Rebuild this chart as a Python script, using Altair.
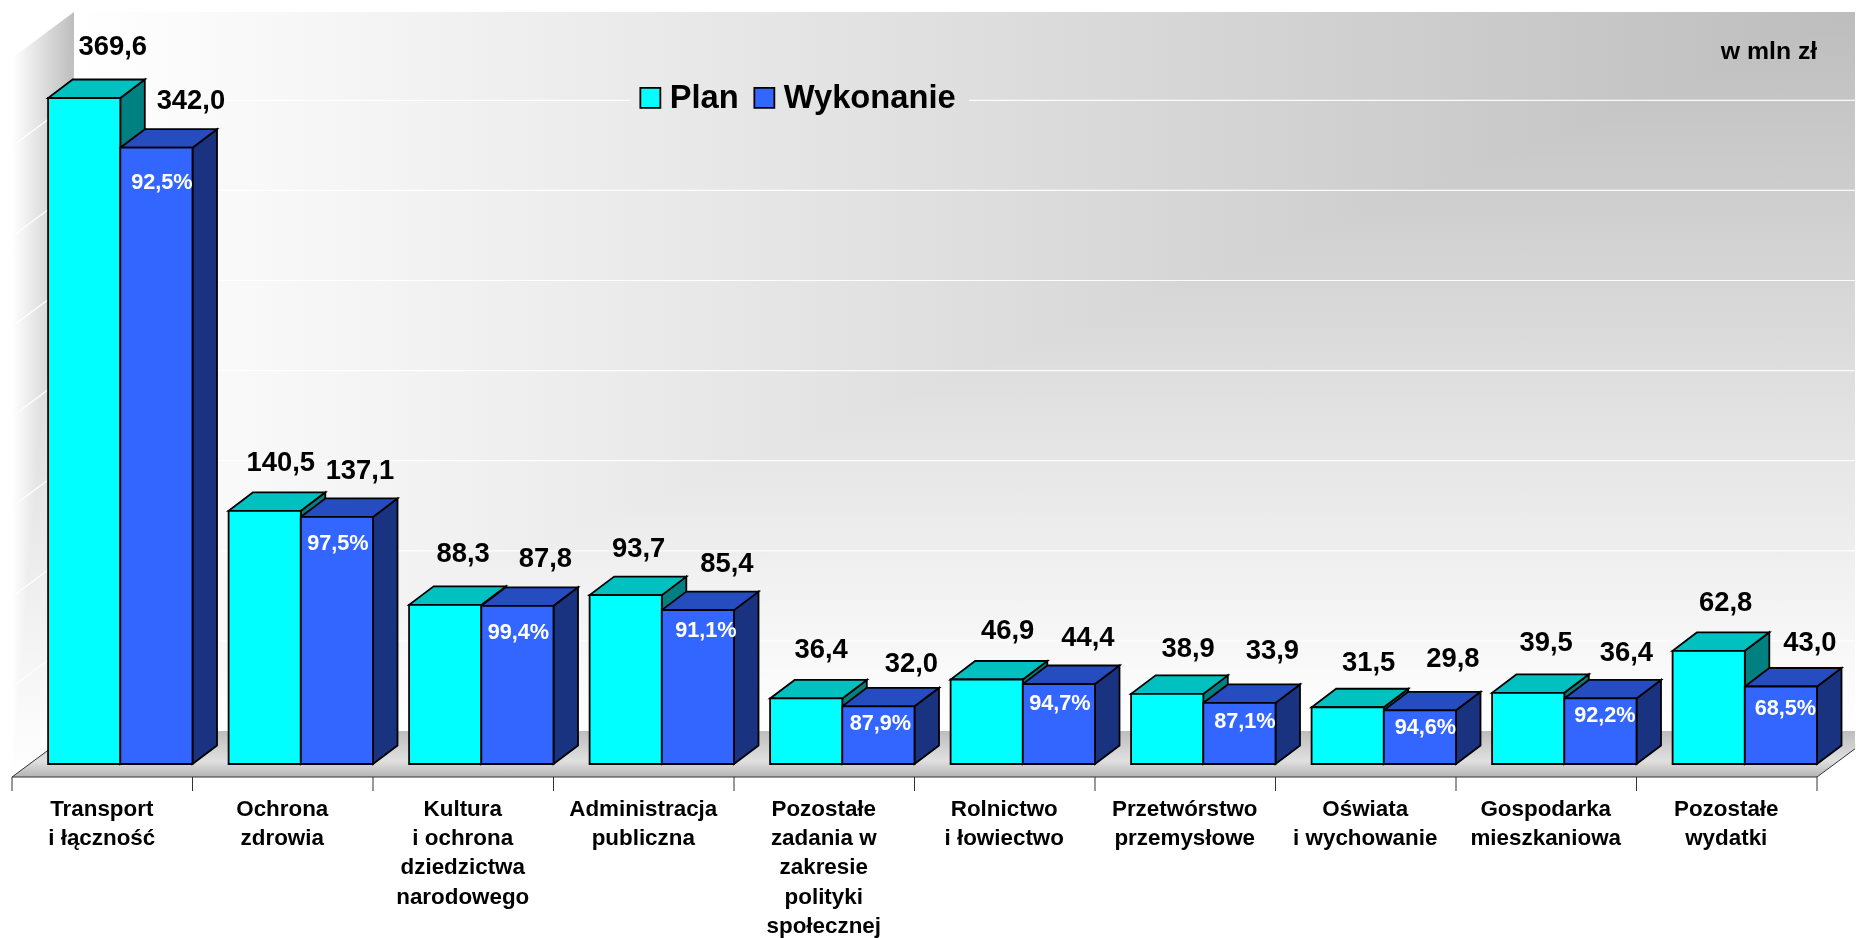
import altair as alt
import pandas as pd

categories = [
    ["Transport", "i łączność"],
    ["Ochrona", "zdrowia"],
    ["Kultura", "i ochrona", "dziedzictwa", "narodowego"],
    ["Administracja", "publiczna"],
    ["Pozostałe", "zadania w", "zakresie", "polityki", "społecznej"],
    ["Rolnictwo", "i łowiectwo"],
    ["Przetwórstwo", "przemysłowe"],
    ["Oświata", "i wychowanie"],
    ["Gospodarka", "mieszkaniowa"],
    ["Pozostałe", "wydatki"],
]
plan = [369.6, 140.5, 88.3, 93.7, 36.4, 46.9, 38.9, 31.5, 39.5, 62.8]
wykonanie = [342.0, 137.1, 87.8, 85.4, 32.0, 44.4, 33.9, 29.8, 36.4, 43.0]
percent = ["92,5%", "97,5%", "99,4%", "91,1%", "87,9%", "94,7%", "87,1%", "94,6%", "92,2%", "68,5%"]
grid_values = [50, 100, 150, 200, 250, 300, 350]
series = ["Plan", "Wykonanie"]
fmt = lambda v: f"{v:.1f}".replace(".", ",")

# geometry of the pseudo-3D projection
CAT = 180.5       # px per category
PXV = 1.802       # px per unit of value
W, H = 1847, 930
dX = 24.5 / CAT   # bar depth
dV = 18.5 / PXV
wallX = 62 / CAT  # floor depth
wallV = 33 / PXV
frontV = -13 / PXV
topV = 417.3
wallR = 1851 / CAT
px = lambda p: p / CAT
pv = lambda p: p / PXV

xs = alt.Scale(domain=[-4 / CAT, 1843 / CAT], nice=False, zero=False)
ys = alt.Scale(domain=[(764 - 938) / PXV, (764 - 8) / PXV], nice=False, zero=False)
X = alt.X("x:Q", scale=xs, axis=None)
Y = alt.Y("y:Q", scale=ys, axis=None)
X2 = alt.X2("x2:Q")
Y2 = alt.Y2("y2:Q")


def grad(stops, x1=0, y1=0, x2=1, y2=0):
    return alt.LinearGradient(
        gradient="linear", x1=x1, y1=y1, x2=x2, y2=y2,
        stops=[alt.GradientStop(offset=o, color=c) for o, c in stops],
    )


# walls and floor: the "from corner" shading is the lighter of two linear ramps
RAMP = [(0, "#ffffff"), (1, "#bdbdbd")]
back_df = pd.DataFrame([dict(x=wallX, x2=wallR, y=wallV, y2=topV)])
back_h = alt.Chart(back_df).mark_rect(color=grad(RAMP)).encode(x=X, x2=X2, y=Y, y2=Y2)
back_v = alt.Chart(back_df).mark_rect(color=grad(RAMP, 0, 1, 0, 0), blend="lighten").encode(x=X, x2=X2, y=Y, y2=Y2)

left_df = pd.DataFrame([
    dict(x=0, y=frontV, y2=topV - (wallV - frontV)),
    dict(x=wallX, y=wallV, y2=topV),
])
left_h = alt.Chart(left_df).mark_area(color=grad(RAMP)).encode(x=X, y=Y, y2=Y2)
left_v = alt.Chart(left_df).mark_area(color=grad(RAMP, 0, 1, 0, 0), blend="lighten").encode(x=X, y=Y, y2=Y2)

floor_df = pd.DataFrame([
    dict(y=frontV, x=0, x2=10),
    dict(y=wallV, x=wallX, x2=10 + wallX),
])
floor = alt.Chart(floor_df).mark_area(
    orient="horizontal", clip=True,
    color=grad([(0, "#bdbdbd"), (0.65, "#e0e0e0"), (1, "#b4b4b4")], 0, 0, 0, 1),
).encode(y=Y, x=X, x2=X2)

front_line = alt.Chart(pd.DataFrame([dict(x=0, x2=10, y=frontV)])).mark_rule(
    color="#333333", strokeWidth=1
).encode(x=X, x2=X2, y=Y)
left_edge = alt.Chart(pd.DataFrame([dict(x=0, y=frontV), dict(x=0.2, y=frontV + (wallV - frontV) * 0.2 / wallX)])).mark_line(
    color="#333333", strokeWidth=1
).encode(x=X, y=Y)
right_edge = alt.Chart(pd.DataFrame([dict(x=10, y=frontV), dict(x=10 + wallX, y=wallV)])).mark_line(
    color="#333333", strokeWidth=1, clip=True
).encode(x=X, y=Y)

# grid lines: the legend interrupts the one behind it
grid_rows = []
for g in grid_values:
    v = g + wallV
    if g == 350:
        grid_rows.append(dict(x=wallX, x2=618 / CAT, y=v))
        grid_rows.append(dict(x=957 / CAT, x2=wallR, y=v))
    else:
        grid_rows.append(dict(x=wallX, x2=wallR, y=v))
grid_back = alt.Chart(pd.DataFrame(grid_rows)).mark_rule(color="#ffffff", strokeWidth=1.2, opacity=0.9).encode(x=X, x2=X2, y=Y)

slant_rows = []
for g in grid_values:
    slant_rows.append(dict(g=g, x=0, y=g + frontV))
    slant_rows.append(dict(g=g, x=wallX, y=g + wallV))
grid_left = alt.Chart(pd.DataFrame(slant_rows)).mark_line(color="#ffffff", strokeWidth=1.2).encode(
    x=X, y=Y, detail="g:N"
)

ticks = alt.Chart(pd.DataFrame([dict(x=i, y=frontV, y2=frontV - pv(14)) for i in range(11)])).mark_rule(
    color="#333333", strokeWidth=1
).encode(x=X, y=Y, y2=Y2)

# bars
STROKE = dict(stroke="#000000", strokeWidth=1.8)
x_start = [i + 0.2 for i in range(10)]
x_mid = [i + 0.6 for i in range(10)]
x_end = [i + 1.0 for i in range(10)]


def side_layer(values, right_edges, colour):
    rows = []
    for i, (v, xr) in enumerate(zip(values, right_edges)):
        rows.append(dict(f=i, x=xr, y=0, y2=v))
        rows.append(dict(f=i, x=xr + dX, y=dV, y2=v + dV))
    return alt.Chart(pd.DataFrame(rows)).mark_area(color=colour, **STROKE).encode(x=X, y=Y, y2=Y2, detail="f:N")


def top_layer(values, left_edges, right_edges, colour):
    rows = []
    for i, (v, xl, xr) in enumerate(zip(values, left_edges, right_edges)):
        rows.append(dict(f=i, y=v, x=xl, x2=xr))
        rows.append(dict(f=i, y=v + dV, x=xl + dX, x2=xr + dX))
    return alt.Chart(pd.DataFrame(rows)).mark_area(color=colour, orient="horizontal", **STROKE).encode(
        y=Y, x=X, x2=X2, detail="f:N"
    )


front_rows = []
for i in range(10):
    front_rows.append(dict(s=series[0], x=x_start[i], x2=x_mid[i], y=0, y2=plan[i]))
    front_rows.append(dict(s=series[1], x=x_mid[i], x2=x_end[i], y=0, y2=wykonanie[i]))
fronts = alt.Chart(pd.DataFrame(front_rows)).mark_rect(**STROKE).encode(
    x=X, x2=X2, y=Y, y2=Y2,
    fill=alt.Fill(
        "s:N",
        scale=alt.Scale(domain=series, range=["#00FFFF", "#3366FF"]),
        legend=alt.Legend(
            title=None, orient="none", legendX=626, legendY=73, direction="horizontal",
            symbolType="square", symbolSize=400, symbolStrokeColor="#000000", symbolStrokeWidth=1.8,
            labelFont="Liberation Sans", labelFontWeight="bold", labelFontSize=32.7, labelColor="#000000",
            labelOffset=3, columnPadding=9, padding=0, labelLimit=300,
        ),
    ),
)

# value labels: (px shift right, px shift up) from the front-top centre of the bar
plan_shift_x = [28.5, 16, 18, 13, 15, 21, 21, 21, 18, 17]
plan_shift_y = [51, 48, 51, 46, 48, 48, 45, 44, 50, 48]
wyk_shift_x = [34.5, 23, 28, 29, 33, 29, 33, 33, 26, 29]
wyk_shift_y = [47, 46, 47, 46, 42, 46, 52, 51, 45, 44]
pct_shift_x = [5.5, 1, 1, 8, 2, 1, 5.5, 5.5, 4.5, 4.5]
pct_shift_y = [34, 26, 26, 20, 17, 19, 18, 17, 17, 21]

labels = []
for i in range(10):
    labels.append(dict(t=fmt(plan[i]), x=x_start[i] + 0.2 + px(plan_shift_x[i]), y=plan[i] + pv(plan_shift_y[i])))
    labels.append(dict(t=fmt(wykonanie[i]), x=x_mid[i] + 0.2 + px(wyk_shift_x[i]), y=wykonanie[i] + pv(wyk_shift_y[i])))
value_text = alt.Chart(pd.DataFrame(labels)).mark_text(
    font="Liberation Sans", fontWeight="bold", fontSize=27.4, color="#000000", align="center", baseline="middle"
).encode(x=X, y=Y, text="t:N")

pct_rows = [dict(t=percent[i], x=x_mid[i] + 0.2 + px(pct_shift_x[i]), y=wykonanie[i] - pv(pct_shift_y[i])) for i in range(10)]
pct_text = alt.Chart(pd.DataFrame(pct_rows)).mark_text(
    font="Liberation Sans", fontWeight="bold", fontSize=21.7, color="#ffffff", align="center", baseline="middle"
).encode(x=X, y=Y, text="t:N")

cat_rows = []
for i, lines in enumerate(categories):
    for j, line in enumerate(lines):
        cat_rows.append(dict(t=line, x=i + 0.5 - px(0.5), y=pv(764 - 809 - 29.2 * j)))
cat_text = alt.Chart(pd.DataFrame(cat_rows)).mark_text(
    font="Liberation Sans", fontWeight="bold", fontSize=22.4, color="#000000", align="center", baseline="middle"
).encode(x=X, y=Y, text="t:N")

unit_text = alt.Chart(pd.DataFrame([dict(t="w mln zł", x=px(1769 - 12), y=pv(764 - 52))])).mark_text(
    font="Liberation Sans", fontWeight="bold", fontSize=24.8, color="#000000", align="center", baseline="middle"
).encode(x=X, y=Y, text="t:N")

chart = alt.layer(
    back_h, back_v, left_h, left_v, floor, grid_back, grid_left, front_line, left_edge, right_edge, ticks,
    side_layer(plan, x_mid, "#008080"),
    top_layer(plan, x_start, x_mid, "#00C0C0"),
    side_layer(wykonanie, x_end, "#1A3380"),
    top_layer(wykonanie, x_mid, x_end, "#264DBF"),
    fronts, value_text, pct_text, cat_text, unit_text,
).properties(
    width=W, height=H, padding=0, background="#ffffff", autosize=alt.AutoSizeParams(type="none")
).configure_view(stroke=None)

chart.save("out.html", embed_options={"renderer": "svg", "actions": False})
